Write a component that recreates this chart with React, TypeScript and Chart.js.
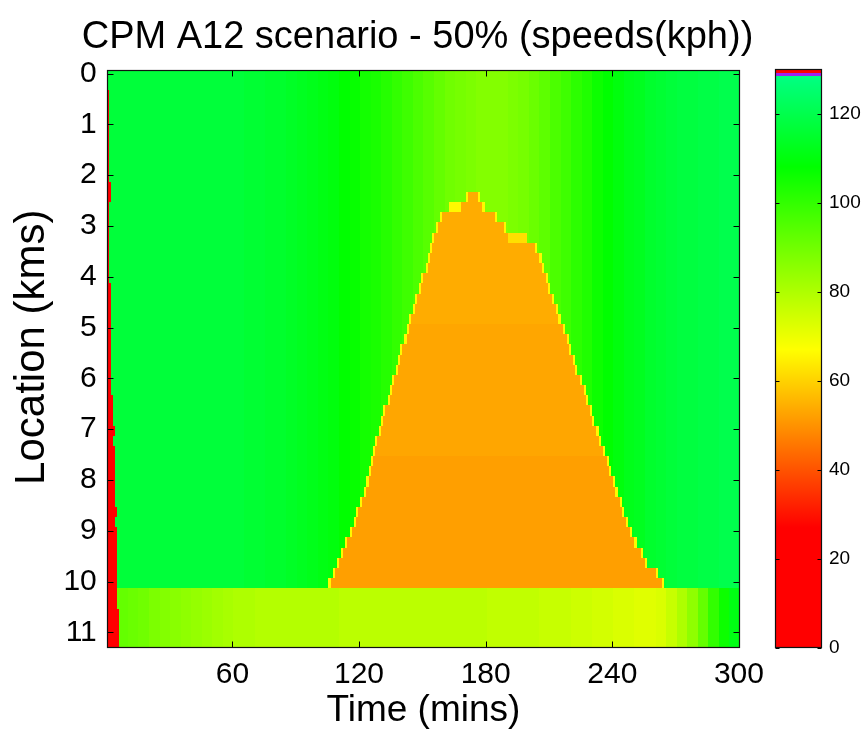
import React, { useEffect, useRef } from "react";
import { Chart, registerables } from "chart.js";

Chart.register(...registerables);

const FONT = "'Liberation Sans', Arial, Helvetica, sans-serif";

const TITLE = "CPM A12 scenario - 50% (speeds(kph))";
const X_TITLE = "Time (mins)";
const Y_TITLE = "  Location (kms)";

const X_TICKS = [60, 120, 180, 240, 300];
const Y_TICKS = [0, 1, 2, 3, 4, 5, 6, 7, 8, 9, 10, 11];
const COLORBAR_TICKS = [0, 20, 40, 60, 80, 100, 120];

const TIME_LIMITS = [0.5, 300.5];
const LOCATION_LIMITS = [-0.07, 11.3];
const SPEED_LIMITS = [0, 130];

// grid of the speed matrix: 1-minute columns, 0.2 km rows
const COLUMN_COUNT = 300;
const COLUMN_MINUTES = 1;
const ROW_COUNT = 57;
const ROW_TOP_KM = -0.07;
const ROW_KM = 0.2;
const BLOCK_MINUTES = 5;

// free-flow speeds (kph) per 5-minute block
// main carriageway rows 0..50
const FREE_MAIN = [
  117, 117, 117, 117, 117, 117, 117, 117, 117, 117, 117, 117,
  117, 116, 116, 115, 115, 114,
  113, 112, 111, 110, 108, 107,
  105, 104, 102, 100, 98, 96,
  94, 92, 90, 89, 88, 87,
  87, 87, 88, 89, 91, 93,
  96, 98, 101, 103, 106, 108,
  110, 112, 113, 115, 116, 117,
  118, 118, 119, 119, 120, 120,
];
// last section rows 51..56
const FREE_END = [
  93, 92, 91, 90, 88, 87,
  86, 85, 84, 83, 82, 81,
  80, 80, 79, 79, 79, 79,
  79, 79, 79, 79, 78, 78,
  78, 78, 78, 78, 78, 78,
  78, 78, 78, 78, 78, 78,
  77, 77, 77, 77, 77, 76,
  76, 76, 75, 75, 74, 74,
  73, 73, 72, 72, 73, 76,
  80, 85, 92, 100, 106, 111,
];
const BAND_LAST_ROW = [50, 56];

// queue (congested area): first / last congested minute per row, rows 12..50
const QUEUE_FIRST_ROW = 12;
const QUEUE_START = [172, 169, 160, 158, 156, 155, 154, 153, 151, 150, 148, 147, 145, 144, 143, 141, 140, 139, 137, 136, 135, 133, 132, 131, 129, 128, 127, 126, 125, 124, 122, 120, 119, 117, 115, 113, 111, 109, 107];
const QUEUE_END = [176, 178, 184, 188, 190, 203, 205, 206, 208, 209, 211, 213, 214, 216, 218, 219, 221, 222, 224, 226, 227, 229, 230, 232, 233, 235, 237, 238, 240, 241, 243, 244, 246, 248, 250, 253, 255, 260, 263];
const QUEUE_SPEED_LAST_ROW = [24, 37, 50];
const QUEUE_SPEED = [54, 53, 52];
const QUEUE_EDGE_SPEED = 66;

// small slow patches near the head of the queue
const PATCH_ROW = [13, 16];
const PATCH_FROM = [163, 191];
const PATCH_TO = [168, 199];
const PATCH_SPEED = [66, 62];

// leading zero-speed minutes (warm-up) per row
const WARMUP_COLUMNS = [
  0, 0,
  1, 1, 1, 1, 1, 1, 1, 1, 1,
  2, 2,
  1, 1, 1, 1, 1, 1, 1, 1,
  2, 2, 2, 2, 2, 2, 2, 2, 2, 2, 2,
  3, 3, 3, 4, 3,
  4, 4, 4, 4, 4, 4,
  5, 4,
  5, 5, 5, 5, 5, 5, 5, 5,
  6, 6, 6, 6,
];

// colormap
const COLORMAP_SPEED = [0, 27, 67, 108, 128];
const COLORMAP_RGB = [
  [255, 0, 0],
  [255, 0, 0],
  [255, 255, 0],
  [0, 255, 0],
  [0, 255, 128],
];
const COLORBAR_CAP_SPEED = [128.4, 129.0];
const COLORBAR_CAP_COLOR = ["#a020f0", "#ff0000"];

function rgbString(c: number[]) {
  return `rgb(${Math.round(c[0])},${Math.round(c[1])},${Math.round(c[2])})`;
}

function speedColor(v: number) {
  if (v <= COLORMAP_SPEED[0]) return rgbString(COLORMAP_RGB[0]);
  for (let i = 1; i < COLORMAP_SPEED.length; i++) {
    if (v <= COLORMAP_SPEED[i]) {
      const t = (v - COLORMAP_SPEED[i - 1]) / (COLORMAP_SPEED[i] - COLORMAP_SPEED[i - 1]);
      const a = COLORMAP_RGB[i - 1];
      const b = COLORMAP_RGB[i];
      return rgbString([a[0] + (b[0] - a[0]) * t, a[1] + (b[1] - a[1]) * t, a[2] + (b[2] - a[2]) * t]);
    }
  }
  return rgbString(COLORMAP_RGB[COLORMAP_RGB.length - 1]);
}

function freeTableForRow(r: number) {
  const tables = [FREE_MAIN, FREE_END];
  for (let i = 0; i < BAND_LAST_ROW.length; i++) if (r <= BAND_LAST_ROW[i]) return tables[i];
  return FREE_END;
}

function queueSpeedForRow(r: number) {
  for (let i = 0; i < QUEUE_SPEED_LAST_ROW.length; i++) if (r <= QUEUE_SPEED_LAST_ROW[i]) return QUEUE_SPEED[i];
  return QUEUE_SPEED[QUEUE_SPEED.length - 1];
}

type Cell = { x: number; y: number; v: number };

function buildCells(): Cell[] {
  const cells: Cell[] = [];
  for (let r = 0; r < ROW_COUNT; r++) {
    const loc = ROW_TOP_KM + ROW_KM * (r + 0.5);
    const free = freeTableForRow(r);
    const qi = r - QUEUE_FIRST_ROW;
    const inQueueRows = qi >= 0 && qi < QUEUE_START.length;
    for (let c = 1; c <= COLUMN_COUNT; c++) {
      let v = free[Math.min(free.length - 1, Math.floor((c - 1) / BLOCK_MINUTES))];
      if (inQueueRows) {
        const s = QUEUE_START[qi];
        const e = QUEUE_END[qi];
        if (c >= s && c <= e) v = queueSpeedForRow(r);
        else if (c === s - 1 || c === e + 1) v = QUEUE_EDGE_SPEED;
      }
      for (let p = 0; p < PATCH_ROW.length; p++) {
        if (PATCH_ROW[p] === r && c >= PATCH_FROM[p] && c <= PATCH_TO[p]) v = PATCH_SPEED[p];
      }
      if (c <= WARMUP_COLUMNS[r]) v = 0;
      cells.push({ x: c * COLUMN_MINUTES, y: loc, v });
    }
  }
  return cells;
}

const CELLS = buildCells();

const heatmapPlugin = {
  id: "heatmap",
  beforeDatasetsDraw(chart: any) {
    const { ctx, chartArea: a, scales } = chart;
    const xs = scales.x;
    const ys = scales.y;
    const data = chart.data.datasets[0].data as Cell[];
    ctx.save();
    ctx.beginPath();
    ctx.rect(a.left, a.top, a.right - a.left, a.bottom - a.top);
    ctx.clip();
    for (const p of data) {
      const x0 = Math.round(xs.getPixelForValue(p.x - COLUMN_MINUTES / 2));
      const x1 = Math.round(xs.getPixelForValue(p.x + COLUMN_MINUTES / 2));
      const ya = Math.round(ys.getPixelForValue(p.y - ROW_KM / 2));
      const yb = Math.round(ys.getPixelForValue(p.y + ROW_KM / 2));
      ctx.fillStyle = speedColor(p.v);
      ctx.fillRect(Math.min(x0, x1), Math.min(ya, yb), Math.abs(x1 - x0), Math.abs(yb - ya));
    }
    ctx.restore();
  },
};

const framePlugin = {
  id: "frame",
  afterDatasetsDraw(chart: any, _args: any, opts: any) {
    const { ctx, chartArea: a, scales } = chart;
    const L = opts.tickLength || 5;
    const left = Math.round(a.left) + 0.5;
    const right = Math.round(a.right) - 0.5;
    const top = Math.round(a.top) + 0.5;
    const bottom = Math.round(a.bottom) - 0.5;
    ctx.save();
    ctx.strokeStyle = "#000";
    ctx.lineWidth = 1;
    ctx.beginPath();
    if (opts.xTicks) {
      for (const t of scales.x.ticks) {
        const px = Math.round(scales.x.getPixelForValue(t.value)) + 0.5;
        ctx.moveTo(px, bottom);
        ctx.lineTo(px, bottom - L);
        ctx.moveTo(px, top);
        ctx.lineTo(px, top + L);
      }
    }
    for (const t of scales.y.ticks) {
      const py = Math.round(scales.y.getPixelForValue(t.value)) + 0.5;
      ctx.moveTo(left, py);
      ctx.lineTo(left + L, py);
      ctx.moveTo(right, py);
      ctx.lineTo(right - L, py);
    }
    ctx.stroke();
    ctx.lineWidth = 1.2;
    ctx.strokeStyle = "#111";
    ctx.strokeRect(left, top, right - left, bottom - top);
    ctx.restore();
  },
};

export default function App() {
  const mainRef = useRef<HTMLCanvasElement>(null);
  const barRef = useRef<HTMLCanvasElement>(null);

  useEffect(() => {
    if (!mainRef.current || !barRef.current) return;

    const main = new Chart(mainRef.current, {
      type: "scatter",
      data: {
        datasets: [
          {
            data: CELLS as any,
            xAxisID: "x",
            yAxisID: "y",
            pointRadius: 0,
            pointHoverRadius: 0,
            showLine: false,
          } as any,
        ],
      },
      options: {
        animation: false,
        responsive: false,
        maintainAspectRatio: false,
        events: [],
        layout: { padding: 0 },
        plugins: {
          legend: { display: false },
          tooltip: { enabled: false },
          title: {
            display: true,
            text: TITLE,
            color: "#000",
            font: { family: FONT, size: 38, weight: "normal", lineHeight: 1.2 },
            padding: { top: 15, bottom: 9.4 },
          },
          frame: { tickLength: 6, xTicks: true },
        } as any,
        scales: {
          x: {
            type: "linear",
            position: "bottom",
            min: TIME_LIMITS[0],
            max: TIME_LIMITS[1],
            grid: { display: false, drawTicks: false },
            border: { display: false },
            afterBuildTicks: (s: any) => {
              s.ticks = X_TICKS.map((v) => ({ value: v }));
            },
            ticks: {
              color: "#000",
              font: { family: FONT, size: 30 },
              padding: 9,
              maxRotation: 0,
              autoSkip: false,
              callback: (v: any) => String(v),
            },
            title: {
              display: true,
              text: X_TITLE,
              color: "#000",
              font: { family: FONT, size: 37 },
              padding: { top: 0, bottom: 0 },
            },
            afterFit: (s: any) => {
              s.height = 85.3;
            },
          },
          y: {
            type: "linear",
            position: "left",
            reverse: true,
            min: LOCATION_LIMITS[0],
            max: LOCATION_LIMITS[1],
            grid: { display: false, drawTicks: false },
            border: { display: false },
            afterBuildTicks: (s: any) => {
              s.ticks = Y_TICKS.map((v) => ({ value: v }));
            },
            ticks: {
              color: "#000",
              font: { family: FONT, size: 30 },
              padding: 10,
              autoSkip: false,
              callback: (v: any) => String(v),
            },
            title: {
              display: true,
              text: Y_TITLE,
              color: "#000",
              font: { family: FONT, size: 42 },
              padding: { top: 7, bottom: 0 },
            },
            afterFit: (s: any) => {
              s.width = 106.8;
            },
          },
          y2: {
            type: "linear",
            position: "right",
            display: true,
            grid: { display: false, drawTicks: false },
            border: { display: false },
            ticks: { display: false },
            afterFit: (s: any) => {
              s.width = 95;
            },
          },
        },
      } as any,
      plugins: [heatmapPlugin, framePlugin],
    });

    const span = SPEED_LIMITS[1] - SPEED_LIMITS[0];
    const bar = new Chart(barRef.current, {
      type: "bar",
      data: {
        labels: ["speed"],
        datasets: [
          {
            data: [[SPEED_LIMITS[0], SPEED_LIMITS[1]]] as any,
            categoryPercentage: 1,
            barPercentage: 1,
            borderWidth: 0,
            borderSkipped: false,
            backgroundColor: (ctx: any) => {
              const chart = ctx.chart;
              if (!chart.chartArea) return "#ffffff";
              const ys = chart.scales.y;
              const g = chart.ctx.createLinearGradient(
                0,
                ys.getPixelForValue(SPEED_LIMITS[0]),
                0,
                ys.getPixelForValue(SPEED_LIMITS[1])
              );
              COLORMAP_SPEED.forEach((s, i) => g.addColorStop((s - SPEED_LIMITS[0]) / span, rgbString(COLORMAP_RGB[i])));
              g.addColorStop(COLORBAR_CAP_SPEED[0] / span, rgbString(COLORMAP_RGB[COLORMAP_RGB.length - 1]));
              g.addColorStop(COLORBAR_CAP_SPEED[0] / span, COLORBAR_CAP_COLOR[0]);
              g.addColorStop(COLORBAR_CAP_SPEED[1] / span, COLORBAR_CAP_COLOR[0]);
              g.addColorStop(COLORBAR_CAP_SPEED[1] / span, COLORBAR_CAP_COLOR[1]);
              g.addColorStop(1, COLORBAR_CAP_COLOR[1]);
              return g;
            },
          } as any,
        ],
      },
      options: {
        animation: false,
        responsive: false,
        maintainAspectRatio: false,
        events: [],
        layout: { padding: { left: 10, top: 69, bottom: 85, right: 0 } },
        plugins: {
          legend: { display: false },
          tooltip: { enabled: false },
          title: { display: false },
          frame: { tickLength: 4, xTicks: false },
        } as any,
        scales: {
          x: { display: false },
          y: {
            type: "linear",
            position: "right",
            min: SPEED_LIMITS[0],
            max: SPEED_LIMITS[1],
            grid: { display: false, drawTicks: false },
            border: { display: false },
            afterBuildTicks: (s: any) => {
              s.ticks = COLORBAR_TICKS.map((v) => ({ value: v }));
            },
            ticks: {
              color: "#000",
              font: { family: FONT, size: 19 },
              padding: 7,
              autoSkip: false,
              callback: (v: any) => String(v),
            },
            afterFit: (s: any) => {
              s.width = 43;
            },
          },
        },
      } as any,
      plugins: [framePlugin],
    });

    return () => {
      main.destroy();
      bar.destroy();
    };
  }, []);

  return (
    <div style={{ position: "absolute", left: 0, top: 0, width: 865, height: 733, background: "#fff" }}>
      <canvas
        ref={mainRef}
        width={835}
        height={733}
        style={{ position: "absolute", left: 0, top: 0, width: 835, height: 733 }}
      />
      <canvas
        ref={barRef}
        width={100}
        height={733}
        style={{ position: "absolute", left: 765, top: 0, width: 100, height: 733 }}
      />
    </div>
  );
}
